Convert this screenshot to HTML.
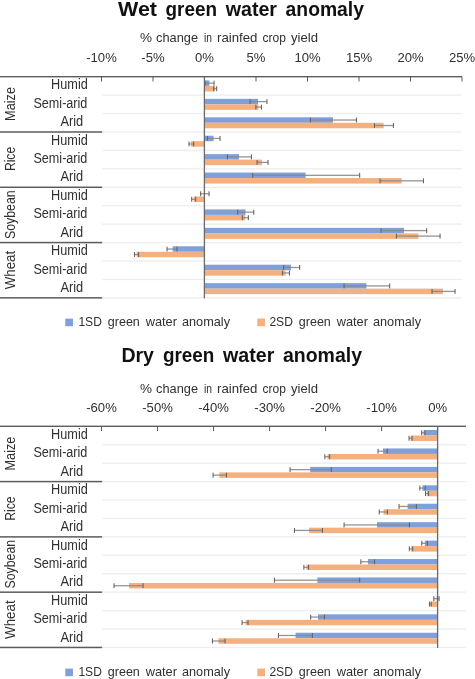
<!DOCTYPE html>
<html><head><meta charset="utf-8"><style>
html,body{margin:0;padding:0;background:#fff;}
svg{display:block;font-family:"Liberation Sans", sans-serif;will-change:transform;}
</style></head><body>
<svg width="475" height="679" viewBox="0 0 475 679">
<text x="118.00" y="15.50" font-size="20" font-weight="bold" fill="#111" textLength="39.00" lengthAdjust="spacingAndGlyphs">Wet</text>
<text x="165.60" y="15.50" font-size="20" font-weight="bold" fill="#111" textLength="51.40" lengthAdjust="spacingAndGlyphs">green</text>
<text x="225.66" y="15.50" font-size="20" font-weight="bold" fill="#111" textLength="51.35" lengthAdjust="spacingAndGlyphs">water</text>
<text x="285.60" y="15.50" font-size="20" font-weight="bold" fill="#111" textLength="78.40" lengthAdjust="spacingAndGlyphs">anomaly</text>
<text x="140.00" y="41.90" font-size="13" fill="#303030" textLength="12.00" lengthAdjust="spacingAndGlyphs">%</text>
<text x="156.00" y="41.90" font-size="13" fill="#303030" textLength="42.00" lengthAdjust="spacingAndGlyphs">change</text>
<text x="204.00" y="41.90" font-size="13" fill="#303030" textLength="8.00" lengthAdjust="spacingAndGlyphs">in</text>
<text x="217.00" y="41.90" font-size="13" fill="#303030" textLength="40.40" lengthAdjust="spacingAndGlyphs">rainfed</text>
<text x="262.60" y="41.90" font-size="13" fill="#303030" textLength="23.40" lengthAdjust="spacingAndGlyphs">crop</text>
<text x="291.00" y="41.90" font-size="13" fill="#303030" textLength="27.00" lengthAdjust="spacingAndGlyphs">yield</text>
<text x="86.22" y="61.90" font-size="13.5" fill="#303030" textLength="30.57" lengthAdjust="spacingAndGlyphs">-10%</text>
<text x="141.36" y="61.90" font-size="13.5" fill="#303030" textLength="23.29" lengthAdjust="spacingAndGlyphs">-5%</text>
<text x="195.04" y="61.90" font-size="13.5" fill="#303030" textLength="18.93" lengthAdjust="spacingAndGlyphs">0%</text>
<text x="246.54" y="61.90" font-size="13.5" fill="#303030" textLength="18.93" lengthAdjust="spacingAndGlyphs">5%</text>
<text x="294.40" y="61.90" font-size="13.5" fill="#303030" textLength="26.21" lengthAdjust="spacingAndGlyphs">10%</text>
<text x="345.90" y="61.90" font-size="13.5" fill="#303030" textLength="26.21" lengthAdjust="spacingAndGlyphs">15%</text>
<text x="397.40" y="61.90" font-size="13.5" fill="#303030" textLength="26.21" lengthAdjust="spacingAndGlyphs">20%</text>
<text x="448.90" y="61.90" font-size="13.5" fill="#303030" textLength="26.21" lengthAdjust="spacingAndGlyphs">25%</text>
<rect x="102.5" y="94.43" width="359.5" height="1.4" fill="#eeeeee"/>
<rect x="102.5" y="112.86" width="359.5" height="1.4" fill="#eeeeee"/>
<rect x="102.5" y="131.29" width="359.5" height="1.4" fill="#eeeeee"/>
<rect x="102.5" y="149.72" width="359.5" height="1.4" fill="#eeeeee"/>
<rect x="102.5" y="168.15" width="359.5" height="1.4" fill="#eeeeee"/>
<rect x="102.5" y="186.58" width="359.5" height="1.4" fill="#eeeeee"/>
<rect x="102.5" y="205.01" width="359.5" height="1.4" fill="#eeeeee"/>
<rect x="102.5" y="223.44" width="359.5" height="1.4" fill="#eeeeee"/>
<rect x="102.5" y="241.87" width="359.5" height="1.4" fill="#eeeeee"/>
<rect x="102.5" y="260.30" width="359.5" height="1.4" fill="#eeeeee"/>
<rect x="102.5" y="278.73" width="359.5" height="1.4" fill="#eeeeee"/>
<rect x="102.5" y="297.16" width="359.5" height="1.4" fill="#eeeeee"/>
<rect x="0" y="131.24" width="102.2" height="1.5" fill="#5c5c5c"/>
<rect x="0" y="186.53" width="102.2" height="1.5" fill="#5c5c5c"/>
<rect x="0" y="241.82" width="102.2" height="1.5" fill="#5c5c5c"/>
<rect x="0" y="297.11" width="102.2" height="1.5" fill="#5c5c5c"/>
<rect x="0" y="76.00" width="462" height="1.4" fill="#5c5c5c"/>
<rect x="101.00" y="76.70" width="1" height="4.8" fill="#5c5c5c"/>
<rect x="152.50" y="76.70" width="1" height="4.8" fill="#5c5c5c"/>
<rect x="204.00" y="76.70" width="1" height="4.8" fill="#5c5c5c"/>
<rect x="255.50" y="76.70" width="1" height="4.8" fill="#5c5c5c"/>
<rect x="307.00" y="76.70" width="1" height="4.8" fill="#5c5c5c"/>
<rect x="358.50" y="76.70" width="1" height="4.8" fill="#5c5c5c"/>
<rect x="410.00" y="76.70" width="1" height="4.8" fill="#5c5c5c"/>
<rect x="461.50" y="76.70" width="1" height="4.8" fill="#5c5c5c"/>
<rect x="204.40" y="80.42" width="5.00" height="5.5" fill="#7fa0da"/>
<rect x="204.40" y="85.92" width="10.60" height="5.5" fill="#f4b07e"/>
<rect x="205.00" y="82.52" width="9.00" height="1.3" fill="#8a8a8a" opacity="0.9"/>
<rect x="204.50" y="80.72" width="1.1" height="4.9" fill="#666666"/>
<rect x="213.50" y="80.72" width="1.1" height="4.9" fill="#666666"/>
<rect x="213.60" y="88.02" width="3.00" height="1.3" fill="#8a8a8a" opacity="0.9"/>
<rect x="213.10" y="86.22" width="1.1" height="4.9" fill="#666666"/>
<rect x="216.10" y="86.22" width="1.1" height="4.9" fill="#666666"/>
<rect x="204.40" y="98.84" width="53.60" height="5.5" fill="#7fa0da"/>
<rect x="204.40" y="104.34" width="54.00" height="5.5" fill="#f4b07e"/>
<rect x="250.00" y="100.94" width="16.90" height="1.3" fill="#8a8a8a" opacity="0.9"/>
<rect x="249.50" y="99.14" width="1.1" height="4.9" fill="#666666"/>
<rect x="266.40" y="99.14" width="1.1" height="4.9" fill="#666666"/>
<rect x="255.80" y="106.44" width="5.60" height="1.3" fill="#8a8a8a" opacity="0.9"/>
<rect x="255.30" y="104.64" width="1.1" height="4.9" fill="#666666"/>
<rect x="260.90" y="104.64" width="1.1" height="4.9" fill="#666666"/>
<rect x="204.40" y="117.28" width="128.60" height="5.5" fill="#7fa0da"/>
<rect x="204.40" y="122.78" width="179.20" height="5.5" fill="#f4b07e"/>
<rect x="310.40" y="119.38" width="46.00" height="1.3" fill="#8a8a8a" opacity="0.9"/>
<rect x="309.90" y="117.58" width="1.1" height="4.9" fill="#666666"/>
<rect x="355.90" y="117.58" width="1.1" height="4.9" fill="#666666"/>
<rect x="374.40" y="124.88" width="19.00" height="1.3" fill="#8a8a8a" opacity="0.9"/>
<rect x="373.90" y="123.08" width="1.1" height="4.9" fill="#666666"/>
<rect x="392.90" y="123.08" width="1.1" height="4.9" fill="#666666"/>
<rect x="204.40" y="135.71" width="9.20" height="5.5" fill="#7fa0da"/>
<rect x="191.00" y="141.21" width="13.40" height="5.5" fill="#f4b07e"/>
<rect x="207.40" y="137.81" width="12.60" height="1.3" fill="#8a8a8a" opacity="0.9"/>
<rect x="206.90" y="136.01" width="1.1" height="4.9" fill="#666666"/>
<rect x="219.50" y="136.01" width="1.1" height="4.9" fill="#666666"/>
<rect x="189.00" y="143.31" width="4.60" height="1.3" fill="#8a8a8a" opacity="0.9"/>
<rect x="188.50" y="141.51" width="1.1" height="4.9" fill="#666666"/>
<rect x="193.10" y="141.51" width="1.1" height="4.9" fill="#666666"/>
<rect x="204.40" y="154.14" width="34.60" height="5.5" fill="#7fa0da"/>
<rect x="204.40" y="159.64" width="57.60" height="5.5" fill="#f4b07e"/>
<rect x="227.40" y="156.24" width="24.00" height="1.3" fill="#8a8a8a" opacity="0.9"/>
<rect x="226.90" y="154.44" width="1.1" height="4.9" fill="#666666"/>
<rect x="250.90" y="154.44" width="1.1" height="4.9" fill="#666666"/>
<rect x="257.00" y="161.74" width="11.00" height="1.3" fill="#8a8a8a" opacity="0.9"/>
<rect x="256.50" y="159.94" width="1.1" height="4.9" fill="#666666"/>
<rect x="267.50" y="159.94" width="1.1" height="4.9" fill="#666666"/>
<rect x="204.40" y="172.57" width="101.20" height="5.5" fill="#7fa0da"/>
<rect x="204.40" y="178.07" width="197.20" height="5.5" fill="#f4b07e"/>
<rect x="252.60" y="174.67" width="107.00" height="1.3" fill="#8a8a8a" opacity="0.9"/>
<rect x="252.10" y="172.87" width="1.1" height="4.9" fill="#666666"/>
<rect x="359.10" y="172.87" width="1.1" height="4.9" fill="#666666"/>
<rect x="380.00" y="180.17" width="43.40" height="1.3" fill="#8a8a8a" opacity="0.9"/>
<rect x="379.50" y="178.37" width="1.1" height="4.9" fill="#666666"/>
<rect x="422.90" y="178.37" width="1.1" height="4.9" fill="#666666"/>
<rect x="204.40" y="191.00" width="0.60" height="5.5" fill="#7fa0da"/>
<rect x="193.60" y="196.50" width="10.80" height="5.5" fill="#f4b07e"/>
<rect x="200.60" y="193.09" width="8.40" height="1.3" fill="#8a8a8a" opacity="0.9"/>
<rect x="200.10" y="191.30" width="1.1" height="4.9" fill="#666666"/>
<rect x="208.50" y="191.30" width="1.1" height="4.9" fill="#666666"/>
<rect x="191.60" y="198.59" width="4.00" height="1.3" fill="#8a8a8a" opacity="0.9"/>
<rect x="191.10" y="196.80" width="1.1" height="4.9" fill="#666666"/>
<rect x="195.10" y="196.80" width="1.1" height="4.9" fill="#666666"/>
<rect x="204.40" y="209.42" width="41.10" height="5.5" fill="#7fa0da"/>
<rect x="204.40" y="214.92" width="40.80" height="5.5" fill="#f4b07e"/>
<rect x="237.60" y="211.52" width="16.10" height="1.3" fill="#8a8a8a" opacity="0.9"/>
<rect x="237.10" y="209.72" width="1.1" height="4.9" fill="#666666"/>
<rect x="253.20" y="209.72" width="1.1" height="4.9" fill="#666666"/>
<rect x="242.30" y="217.02" width="6.00" height="1.3" fill="#8a8a8a" opacity="0.9"/>
<rect x="241.80" y="215.22" width="1.1" height="4.9" fill="#666666"/>
<rect x="247.80" y="215.22" width="1.1" height="4.9" fill="#666666"/>
<rect x="204.40" y="227.85" width="199.60" height="5.5" fill="#7fa0da"/>
<rect x="204.40" y="233.35" width="214.00" height="5.5" fill="#f4b07e"/>
<rect x="381.00" y="229.95" width="45.60" height="1.3" fill="#8a8a8a" opacity="0.9"/>
<rect x="380.50" y="228.16" width="1.1" height="4.9" fill="#666666"/>
<rect x="426.10" y="228.16" width="1.1" height="4.9" fill="#666666"/>
<rect x="396.40" y="235.45" width="43.60" height="1.3" fill="#8a8a8a" opacity="0.9"/>
<rect x="395.90" y="233.66" width="1.1" height="4.9" fill="#666666"/>
<rect x="439.50" y="233.66" width="1.1" height="4.9" fill="#666666"/>
<rect x="172.60" y="246.28" width="31.80" height="5.5" fill="#7fa0da"/>
<rect x="136.60" y="251.78" width="67.80" height="5.5" fill="#f4b07e"/>
<rect x="167.00" y="248.38" width="10.00" height="1.3" fill="#8a8a8a" opacity="0.9"/>
<rect x="166.50" y="246.59" width="1.1" height="4.9" fill="#666666"/>
<rect x="176.50" y="246.59" width="1.1" height="4.9" fill="#666666"/>
<rect x="134.50" y="253.88" width="4.00" height="1.3" fill="#8a8a8a" opacity="0.9"/>
<rect x="134.00" y="252.09" width="1.1" height="4.9" fill="#666666"/>
<rect x="138.00" y="252.09" width="1.1" height="4.9" fill="#666666"/>
<rect x="204.40" y="264.71" width="86.60" height="5.5" fill="#7fa0da"/>
<rect x="204.40" y="270.21" width="81.20" height="5.5" fill="#f4b07e"/>
<rect x="283.60" y="266.81" width="16.00" height="1.3" fill="#8a8a8a" opacity="0.9"/>
<rect x="283.10" y="265.01" width="1.1" height="4.9" fill="#666666"/>
<rect x="299.10" y="265.01" width="1.1" height="4.9" fill="#666666"/>
<rect x="282.40" y="272.31" width="7.00" height="1.3" fill="#8a8a8a" opacity="0.9"/>
<rect x="281.90" y="270.51" width="1.1" height="4.9" fill="#666666"/>
<rect x="288.90" y="270.51" width="1.1" height="4.9" fill="#666666"/>
<rect x="204.40" y="283.14" width="162.00" height="5.5" fill="#7fa0da"/>
<rect x="204.40" y="288.64" width="238.60" height="5.5" fill="#f4b07e"/>
<rect x="344.00" y="285.25" width="45.60" height="1.3" fill="#8a8a8a" opacity="0.9"/>
<rect x="343.50" y="283.44" width="1.1" height="4.9" fill="#666666"/>
<rect x="389.10" y="283.44" width="1.1" height="4.9" fill="#666666"/>
<rect x="432.00" y="290.75" width="23.00" height="1.3" fill="#8a8a8a" opacity="0.9"/>
<rect x="431.50" y="288.94" width="1.1" height="4.9" fill="#666666"/>
<rect x="454.50" y="288.94" width="1.1" height="4.9" fill="#666666"/>
<rect x="203.75" y="76.70" width="1.3" height="221.66" fill="#6a6a6a"/>
<text x="51.10" y="89.32" font-size="14" fill="#303030" textLength="36.70" lengthAdjust="spacingAndGlyphs">Humid</text>
<text x="33.40" y="107.75" font-size="14" fill="#303030" textLength="54.00" lengthAdjust="spacingAndGlyphs">Semi-arid</text>
<text x="60.40" y="126.18" font-size="14" fill="#303030" textLength="22.80" lengthAdjust="spacingAndGlyphs">Arid</text>
<text x="0.00" y="0" font-size="15" fill="#303030" textLength="33.89" lengthAdjust="spacingAndGlyphs" transform="translate(15.0,120.90) rotate(-90)">Maize</text>
<text x="51.10" y="144.61" font-size="14" fill="#303030" textLength="36.70" lengthAdjust="spacingAndGlyphs">Humid</text>
<text x="33.40" y="163.04" font-size="14" fill="#303030" textLength="54.00" lengthAdjust="spacingAndGlyphs">Semi-arid</text>
<text x="60.40" y="181.47" font-size="14" fill="#303030" textLength="22.80" lengthAdjust="spacingAndGlyphs">Arid</text>
<text x="0.00" y="0" font-size="15" fill="#303030" textLength="24.29" lengthAdjust="spacingAndGlyphs" transform="translate(15.0,171.10) rotate(-90)">Rice</text>
<text x="51.10" y="199.90" font-size="14" fill="#303030" textLength="36.70" lengthAdjust="spacingAndGlyphs">Humid</text>
<text x="33.40" y="218.32" font-size="14" fill="#303030" textLength="54.00" lengthAdjust="spacingAndGlyphs">Semi-arid</text>
<text x="60.40" y="236.75" font-size="14" fill="#303030" textLength="22.80" lengthAdjust="spacingAndGlyphs">Arid</text>
<text x="0.00" y="0" font-size="15" fill="#303030" textLength="48.70" lengthAdjust="spacingAndGlyphs" transform="translate(15.0,239.00) rotate(-90)">Soybean</text>
<text x="51.10" y="255.19" font-size="14" fill="#303030" textLength="36.70" lengthAdjust="spacingAndGlyphs">Humid</text>
<text x="33.40" y="273.61" font-size="14" fill="#303030" textLength="54.00" lengthAdjust="spacingAndGlyphs">Semi-arid</text>
<text x="60.40" y="292.04" font-size="14" fill="#303030" textLength="22.80" lengthAdjust="spacingAndGlyphs">Arid</text>
<text x="0.00" y="0" font-size="15" fill="#303030" textLength="38.50" lengthAdjust="spacingAndGlyphs" transform="translate(15.0,289.30) rotate(-90)">Wheat</text>
<rect x="65.3" y="318.6" width="7.7" height="7.6" fill="#7fa0da"/>
<text x="78.40" y="325.80" font-size="13" fill="#303030" textLength="23.50" lengthAdjust="spacingAndGlyphs">1SD</text>
<text x="107.80" y="325.80" font-size="13" fill="#303030" textLength="32.00" lengthAdjust="spacingAndGlyphs">green</text>
<text x="145.73" y="325.80" font-size="13" fill="#303030" textLength="31.28" lengthAdjust="spacingAndGlyphs">water</text>
<text x="182.00" y="325.80" font-size="13" fill="#303030" textLength="48.00" lengthAdjust="spacingAndGlyphs">anomaly</text>
<rect x="257.3" y="318.6" width="7.7" height="7.6" fill="#f4b07e"/>
<text x="269.40" y="325.80" font-size="13" fill="#303030" textLength="23.50" lengthAdjust="spacingAndGlyphs">2SD</text>
<text x="298.80" y="325.80" font-size="13" fill="#303030" textLength="32.00" lengthAdjust="spacingAndGlyphs">green</text>
<text x="336.73" y="325.80" font-size="13" fill="#303030" textLength="31.28" lengthAdjust="spacingAndGlyphs">water</text>
<text x="373.00" y="325.80" font-size="13" fill="#303030" textLength="48.00" lengthAdjust="spacingAndGlyphs">anomaly</text>
<text x="121.40" y="361.50" font-size="20" font-weight="bold" fill="#111" textLength="32.61" lengthAdjust="spacingAndGlyphs">Dry</text>
<text x="163.00" y="361.50" font-size="20" font-weight="bold" fill="#111" textLength="51.40" lengthAdjust="spacingAndGlyphs">green</text>
<text x="223.06" y="361.50" font-size="20" font-weight="bold" fill="#111" textLength="51.35" lengthAdjust="spacingAndGlyphs">water</text>
<text x="283.00" y="361.50" font-size="20" font-weight="bold" fill="#111" textLength="79.00" lengthAdjust="spacingAndGlyphs">anomaly</text>
<text x="140.00" y="393.20" font-size="13" fill="#303030" textLength="12.00" lengthAdjust="spacingAndGlyphs">%</text>
<text x="156.00" y="393.20" font-size="13" fill="#303030" textLength="42.00" lengthAdjust="spacingAndGlyphs">change</text>
<text x="204.00" y="393.20" font-size="13" fill="#303030" textLength="8.00" lengthAdjust="spacingAndGlyphs">in</text>
<text x="217.00" y="393.20" font-size="13" fill="#303030" textLength="40.40" lengthAdjust="spacingAndGlyphs">rainfed</text>
<text x="262.60" y="393.20" font-size="13" fill="#303030" textLength="23.40" lengthAdjust="spacingAndGlyphs">crop</text>
<text x="291.00" y="393.20" font-size="13" fill="#303030" textLength="27.00" lengthAdjust="spacingAndGlyphs">yield</text>
<text x="86.22" y="412.00" font-size="13.5" fill="#303030" textLength="30.57" lengthAdjust="spacingAndGlyphs">-60%</text>
<text x="142.24" y="412.00" font-size="13.5" fill="#303030" textLength="30.57" lengthAdjust="spacingAndGlyphs">-50%</text>
<text x="198.26" y="412.00" font-size="13.5" fill="#303030" textLength="30.57" lengthAdjust="spacingAndGlyphs">-40%</text>
<text x="254.28" y="412.00" font-size="13.5" fill="#303030" textLength="30.57" lengthAdjust="spacingAndGlyphs">-30%</text>
<text x="310.30" y="412.00" font-size="13.5" fill="#303030" textLength="30.57" lengthAdjust="spacingAndGlyphs">-20%</text>
<text x="366.32" y="412.00" font-size="13.5" fill="#303030" textLength="30.57" lengthAdjust="spacingAndGlyphs">-10%</text>
<text x="428.16" y="412.00" font-size="13.5" fill="#303030" textLength="18.93" lengthAdjust="spacingAndGlyphs">0%</text>
<rect x="102.5" y="444.03" width="363.5" height="1.4" fill="#eeeeee"/>
<rect x="102.5" y="462.46" width="363.5" height="1.4" fill="#eeeeee"/>
<rect x="102.5" y="480.89" width="363.5" height="1.4" fill="#eeeeee"/>
<rect x="102.5" y="499.32" width="363.5" height="1.4" fill="#eeeeee"/>
<rect x="102.5" y="517.75" width="363.5" height="1.4" fill="#eeeeee"/>
<rect x="102.5" y="536.18" width="363.5" height="1.4" fill="#eeeeee"/>
<rect x="102.5" y="554.61" width="363.5" height="1.4" fill="#eeeeee"/>
<rect x="102.5" y="573.04" width="363.5" height="1.4" fill="#eeeeee"/>
<rect x="102.5" y="591.47" width="363.5" height="1.4" fill="#eeeeee"/>
<rect x="102.5" y="609.90" width="363.5" height="1.4" fill="#eeeeee"/>
<rect x="102.5" y="628.33" width="363.5" height="1.4" fill="#eeeeee"/>
<rect x="102.5" y="646.76" width="363.5" height="1.4" fill="#eeeeee"/>
<rect x="0" y="480.84" width="102.2" height="1.5" fill="#5c5c5c"/>
<rect x="0" y="536.13" width="102.2" height="1.5" fill="#5c5c5c"/>
<rect x="0" y="591.42" width="102.2" height="1.5" fill="#5c5c5c"/>
<rect x="0" y="646.71" width="102.2" height="1.5" fill="#5c5c5c"/>
<rect x="0" y="425.60" width="466" height="1.4" fill="#5c5c5c"/>
<rect x="101.00" y="426.30" width="1" height="4.8" fill="#5c5c5c"/>
<rect x="157.02" y="426.30" width="1" height="4.8" fill="#5c5c5c"/>
<rect x="213.04" y="426.30" width="1" height="4.8" fill="#5c5c5c"/>
<rect x="269.06" y="426.30" width="1" height="4.8" fill="#5c5c5c"/>
<rect x="325.08" y="426.30" width="1" height="4.8" fill="#5c5c5c"/>
<rect x="381.10" y="426.30" width="1" height="4.8" fill="#5c5c5c"/>
<rect x="437.12" y="426.30" width="1" height="4.8" fill="#5c5c5c"/>
<rect x="423.60" y="430.01" width="14.00" height="5.5" fill="#7fa0da"/>
<rect x="410.60" y="435.51" width="27.00" height="5.5" fill="#f4b07e"/>
<rect x="421.60" y="432.12" width="3.40" height="1.3" fill="#8a8a8a" opacity="0.9"/>
<rect x="421.10" y="430.31" width="1.1" height="4.9" fill="#666666"/>
<rect x="424.50" y="430.31" width="1.1" height="4.9" fill="#666666"/>
<rect x="409.00" y="437.62" width="3.00" height="1.3" fill="#8a8a8a" opacity="0.9"/>
<rect x="408.50" y="435.81" width="1.1" height="4.9" fill="#666666"/>
<rect x="411.50" y="435.81" width="1.1" height="4.9" fill="#666666"/>
<rect x="383.00" y="448.44" width="54.60" height="5.5" fill="#7fa0da"/>
<rect x="327.60" y="453.94" width="110.00" height="5.5" fill="#f4b07e"/>
<rect x="378.00" y="450.55" width="9.20" height="1.3" fill="#8a8a8a" opacity="0.9"/>
<rect x="377.50" y="448.75" width="1.1" height="4.9" fill="#666666"/>
<rect x="386.70" y="448.75" width="1.1" height="4.9" fill="#666666"/>
<rect x="324.80" y="456.05" width="4.80" height="1.3" fill="#8a8a8a" opacity="0.9"/>
<rect x="324.30" y="454.25" width="1.1" height="4.9" fill="#666666"/>
<rect x="329.10" y="454.25" width="1.1" height="4.9" fill="#666666"/>
<rect x="310.20" y="466.88" width="127.40" height="5.5" fill="#7fa0da"/>
<rect x="219.40" y="472.38" width="218.20" height="5.5" fill="#f4b07e"/>
<rect x="290.00" y="468.98" width="41.30" height="1.3" fill="#8a8a8a" opacity="0.9"/>
<rect x="289.50" y="467.18" width="1.1" height="4.9" fill="#666666"/>
<rect x="330.80" y="467.18" width="1.1" height="4.9" fill="#666666"/>
<rect x="213.00" y="474.48" width="13.40" height="1.3" fill="#8a8a8a" opacity="0.9"/>
<rect x="212.50" y="472.68" width="1.1" height="4.9" fill="#666666"/>
<rect x="225.90" y="472.68" width="1.1" height="4.9" fill="#666666"/>
<rect x="422.40" y="485.31" width="15.20" height="5.5" fill="#7fa0da"/>
<rect x="427.00" y="490.81" width="10.60" height="5.5" fill="#f4b07e"/>
<rect x="419.80" y="487.41" width="5.40" height="1.3" fill="#8a8a8a" opacity="0.9"/>
<rect x="419.30" y="485.61" width="1.1" height="4.9" fill="#666666"/>
<rect x="424.70" y="485.61" width="1.1" height="4.9" fill="#666666"/>
<rect x="425.50" y="492.91" width="3.00" height="1.3" fill="#8a8a8a" opacity="0.9"/>
<rect x="425.00" y="491.11" width="1.1" height="4.9" fill="#666666"/>
<rect x="428.00" y="491.11" width="1.1" height="4.9" fill="#666666"/>
<rect x="407.60" y="503.73" width="30.00" height="5.5" fill="#7fa0da"/>
<rect x="383.60" y="509.23" width="54.00" height="5.5" fill="#f4b07e"/>
<rect x="399.00" y="505.83" width="17.40" height="1.3" fill="#8a8a8a" opacity="0.9"/>
<rect x="398.50" y="504.03" width="1.1" height="4.9" fill="#666666"/>
<rect x="415.90" y="504.03" width="1.1" height="4.9" fill="#666666"/>
<rect x="379.20" y="511.33" width="8.20" height="1.3" fill="#8a8a8a" opacity="0.9"/>
<rect x="378.70" y="509.53" width="1.1" height="4.9" fill="#666666"/>
<rect x="386.90" y="509.53" width="1.1" height="4.9" fill="#666666"/>
<rect x="377.00" y="522.17" width="60.60" height="5.5" fill="#7fa0da"/>
<rect x="309.00" y="527.67" width="128.60" height="5.5" fill="#f4b07e"/>
<rect x="344.00" y="524.27" width="65.40" height="1.3" fill="#8a8a8a" opacity="0.9"/>
<rect x="343.50" y="522.47" width="1.1" height="4.9" fill="#666666"/>
<rect x="408.90" y="522.47" width="1.1" height="4.9" fill="#666666"/>
<rect x="294.40" y="529.77" width="28.00" height="1.3" fill="#8a8a8a" opacity="0.9"/>
<rect x="293.90" y="527.97" width="1.1" height="4.9" fill="#666666"/>
<rect x="321.90" y="527.97" width="1.1" height="4.9" fill="#666666"/>
<rect x="424.80" y="540.60" width="12.80" height="5.5" fill="#7fa0da"/>
<rect x="411.20" y="546.10" width="26.40" height="5.5" fill="#f4b07e"/>
<rect x="421.70" y="542.70" width="5.70" height="1.3" fill="#8a8a8a" opacity="0.9"/>
<rect x="421.20" y="540.89" width="1.1" height="4.9" fill="#666666"/>
<rect x="426.90" y="540.89" width="1.1" height="4.9" fill="#666666"/>
<rect x="409.30" y="548.20" width="3.30" height="1.3" fill="#8a8a8a" opacity="0.9"/>
<rect x="408.80" y="546.39" width="1.1" height="4.9" fill="#666666"/>
<rect x="412.10" y="546.39" width="1.1" height="4.9" fill="#666666"/>
<rect x="367.90" y="559.02" width="69.70" height="5.5" fill="#7fa0da"/>
<rect x="306.40" y="564.52" width="131.20" height="5.5" fill="#f4b07e"/>
<rect x="360.80" y="561.12" width="13.70" height="1.3" fill="#8a8a8a" opacity="0.9"/>
<rect x="360.30" y="559.32" width="1.1" height="4.9" fill="#666666"/>
<rect x="374.00" y="559.32" width="1.1" height="4.9" fill="#666666"/>
<rect x="303.80" y="566.62" width="4.70" height="1.3" fill="#8a8a8a" opacity="0.9"/>
<rect x="303.30" y="564.82" width="1.1" height="4.9" fill="#666666"/>
<rect x="308.00" y="564.82" width="1.1" height="4.9" fill="#666666"/>
<rect x="317.40" y="577.46" width="120.20" height="5.5" fill="#7fa0da"/>
<rect x="129.00" y="582.96" width="308.60" height="5.5" fill="#f4b07e"/>
<rect x="274.40" y="579.56" width="85.20" height="1.3" fill="#8a8a8a" opacity="0.9"/>
<rect x="273.90" y="577.75" width="1.1" height="4.9" fill="#666666"/>
<rect x="359.10" y="577.75" width="1.1" height="4.9" fill="#666666"/>
<rect x="114.00" y="585.06" width="29.00" height="1.3" fill="#8a8a8a" opacity="0.9"/>
<rect x="113.50" y="583.25" width="1.1" height="4.9" fill="#666666"/>
<rect x="142.50" y="583.25" width="1.1" height="4.9" fill="#666666"/>
<rect x="436.60" y="595.89" width="1.00" height="5.5" fill="#7fa0da"/>
<rect x="430.40" y="601.39" width="7.20" height="5.5" fill="#f4b07e"/>
<rect x="433.80" y="597.99" width="5.20" height="1.3" fill="#8a8a8a" opacity="0.9"/>
<rect x="433.30" y="596.19" width="1.1" height="4.9" fill="#666666"/>
<rect x="438.50" y="596.19" width="1.1" height="4.9" fill="#666666"/>
<rect x="429.40" y="603.49" width="1.80" height="1.3" fill="#8a8a8a" opacity="0.9"/>
<rect x="428.90" y="601.69" width="1.1" height="4.9" fill="#666666"/>
<rect x="430.70" y="601.69" width="1.1" height="4.9" fill="#666666"/>
<rect x="318.00" y="614.32" width="119.60" height="5.5" fill="#7fa0da"/>
<rect x="245.60" y="619.82" width="192.00" height="5.5" fill="#f4b07e"/>
<rect x="310.60" y="616.42" width="13.80" height="1.3" fill="#8a8a8a" opacity="0.9"/>
<rect x="310.10" y="614.62" width="1.1" height="4.9" fill="#666666"/>
<rect x="323.90" y="614.62" width="1.1" height="4.9" fill="#666666"/>
<rect x="242.00" y="621.92" width="6.00" height="1.3" fill="#8a8a8a" opacity="0.9"/>
<rect x="241.50" y="620.12" width="1.1" height="4.9" fill="#666666"/>
<rect x="247.50" y="620.12" width="1.1" height="4.9" fill="#666666"/>
<rect x="295.60" y="632.75" width="142.00" height="5.5" fill="#7fa0da"/>
<rect x="218.40" y="638.25" width="219.20" height="5.5" fill="#f4b07e"/>
<rect x="278.40" y="634.85" width="34.00" height="1.3" fill="#8a8a8a" opacity="0.9"/>
<rect x="277.90" y="633.04" width="1.1" height="4.9" fill="#666666"/>
<rect x="311.90" y="633.04" width="1.1" height="4.9" fill="#666666"/>
<rect x="212.40" y="640.35" width="12.60" height="1.3" fill="#8a8a8a" opacity="0.9"/>
<rect x="211.90" y="638.54" width="1.1" height="4.9" fill="#666666"/>
<rect x="224.50" y="638.54" width="1.1" height="4.9" fill="#666666"/>
<rect x="436.95" y="426.30" width="1.3" height="221.66" fill="#6a6a6a"/>
<text x="51.10" y="438.91" font-size="14" fill="#303030" textLength="36.70" lengthAdjust="spacingAndGlyphs">Humid</text>
<text x="33.40" y="457.34" font-size="14" fill="#303030" textLength="54.00" lengthAdjust="spacingAndGlyphs">Semi-arid</text>
<text x="60.40" y="475.77" font-size="14" fill="#303030" textLength="22.80" lengthAdjust="spacingAndGlyphs">Arid</text>
<text x="0.00" y="0" font-size="15" fill="#303030" textLength="33.89" lengthAdjust="spacingAndGlyphs" transform="translate(15.0,470.50) rotate(-90)">Maize</text>
<text x="51.10" y="494.20" font-size="14" fill="#303030" textLength="36.70" lengthAdjust="spacingAndGlyphs">Humid</text>
<text x="33.40" y="512.63" font-size="14" fill="#303030" textLength="54.00" lengthAdjust="spacingAndGlyphs">Semi-arid</text>
<text x="60.40" y="531.07" font-size="14" fill="#303030" textLength="22.80" lengthAdjust="spacingAndGlyphs">Arid</text>
<text x="0.00" y="0" font-size="15" fill="#303030" textLength="24.29" lengthAdjust="spacingAndGlyphs" transform="translate(15.0,520.70) rotate(-90)">Rice</text>
<text x="51.10" y="549.50" font-size="14" fill="#303030" textLength="36.70" lengthAdjust="spacingAndGlyphs">Humid</text>
<text x="33.40" y="567.92" font-size="14" fill="#303030" textLength="54.00" lengthAdjust="spacingAndGlyphs">Semi-arid</text>
<text x="60.40" y="586.36" font-size="14" fill="#303030" textLength="22.80" lengthAdjust="spacingAndGlyphs">Arid</text>
<text x="0.00" y="0" font-size="15" fill="#303030" textLength="48.70" lengthAdjust="spacingAndGlyphs" transform="translate(15.0,588.60) rotate(-90)">Soybean</text>
<text x="51.10" y="604.79" font-size="14" fill="#303030" textLength="36.70" lengthAdjust="spacingAndGlyphs">Humid</text>
<text x="33.40" y="623.22" font-size="14" fill="#303030" textLength="54.00" lengthAdjust="spacingAndGlyphs">Semi-arid</text>
<text x="60.40" y="641.64" font-size="14" fill="#303030" textLength="22.80" lengthAdjust="spacingAndGlyphs">Arid</text>
<text x="0.00" y="0" font-size="15" fill="#303030" textLength="38.50" lengthAdjust="spacingAndGlyphs" transform="translate(15.0,638.90) rotate(-90)">Wheat</text>
<rect x="65.3" y="668.6" width="7.7" height="7.6" fill="#7fa0da"/>
<text x="78.40" y="675.80" font-size="13" fill="#303030" textLength="23.50" lengthAdjust="spacingAndGlyphs">1SD</text>
<text x="107.80" y="675.80" font-size="13" fill="#303030" textLength="32.00" lengthAdjust="spacingAndGlyphs">green</text>
<text x="145.73" y="675.80" font-size="13" fill="#303030" textLength="31.28" lengthAdjust="spacingAndGlyphs">water</text>
<text x="182.00" y="675.80" font-size="13" fill="#303030" textLength="48.00" lengthAdjust="spacingAndGlyphs">anomaly</text>
<rect x="257.3" y="668.6" width="7.7" height="7.6" fill="#f4b07e"/>
<text x="269.40" y="675.80" font-size="13" fill="#303030" textLength="23.50" lengthAdjust="spacingAndGlyphs">2SD</text>
<text x="298.80" y="675.80" font-size="13" fill="#303030" textLength="32.00" lengthAdjust="spacingAndGlyphs">green</text>
<text x="336.73" y="675.80" font-size="13" fill="#303030" textLength="31.28" lengthAdjust="spacingAndGlyphs">water</text>
<text x="373.00" y="675.80" font-size="13" fill="#303030" textLength="48.00" lengthAdjust="spacingAndGlyphs">anomaly</text>
</svg>
</body></html>
